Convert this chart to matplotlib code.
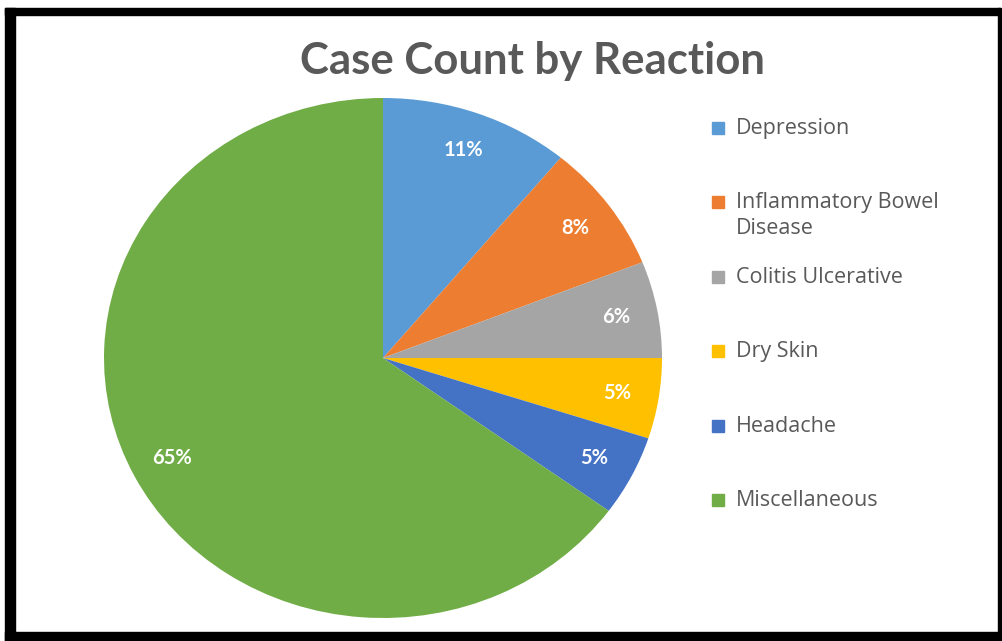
import matplotlib.pyplot as plt
from matplotlib.patches import Rectangle

# data
reactions = ["Depression", "Inflammatory Bowel\nDisease", "Colitis Ulcerative",
             "Dry Skin", "Headache", "Miscellaneous"]
shares = [11, 8, 6, 5, 5, 65]
colors = ["#5B9BD5", "#ED7D31", "#A5A5A5", "#FFC000", "#4472C4", "#70AD47"]

W, H = 1003, 641
fig = plt.figure(figsize=(W / 100, H / 100), dpi=100)
fig.patch.set_facecolor("white")

# pie axes, stretched a little wider than tall like the source picture
cx, cy, rx, ry = 383, 358, 279, 260
ax = fig.add_axes([(cx - rx) / W, (H - cy - ry) / H, 2 * rx / W, 2 * ry / H])
ax.pie(shares, colors=colors, startangle=90, counterclock=False,
       autopct="%1.0f%%", pctdistance=0.85,
       wedgeprops=dict(linewidth=0),
       textprops=dict(color="white", fontsize=14.5, fontweight="bold",
                      family="Lato"))
ax.set_aspect("auto")
ax.set_xlim(-1, 1)
ax.set_ylim(-1, 1)
ax.axis("off")

fig.text(533 / W, 1 - 61 / H, "Case Count by Reaction", ha="center",
         va="center", fontsize=31.5, fontweight="bold", color="#595959",
         family="Lato")

# legend drawn by hand so every entry sits on the same step
y0, step = 128, 74.4
for i, (lab, col) in enumerate(zip(reactions, colors)):
    y = y0 + i * step
    fig.patches.append(Rectangle(((718 - 6) / W, 1 - (y + 6) / H), 12 / W, 12 / H,
                                 transform=fig.transFigure, color=col))
    fig.text(736 / W, 1 - (y - 10) / H, lab, ha="left", va="top",
             fontsize=15.5, color="#595959", family="Open Sans",
             linespacing=1.3)

# black picture frame
for x, y, w, h in [(5, 8, 995, 7), (5, 8, 10, 633), (5, 632, 997, 9), (998, 8, 3, 633)]:
    fig.patches.append(Rectangle((x / W, 1 - (y + h) / H), w / W, h / H,
                                 transform=fig.transFigure, color="black"))

fig.savefig("out.png", dpi=100)
